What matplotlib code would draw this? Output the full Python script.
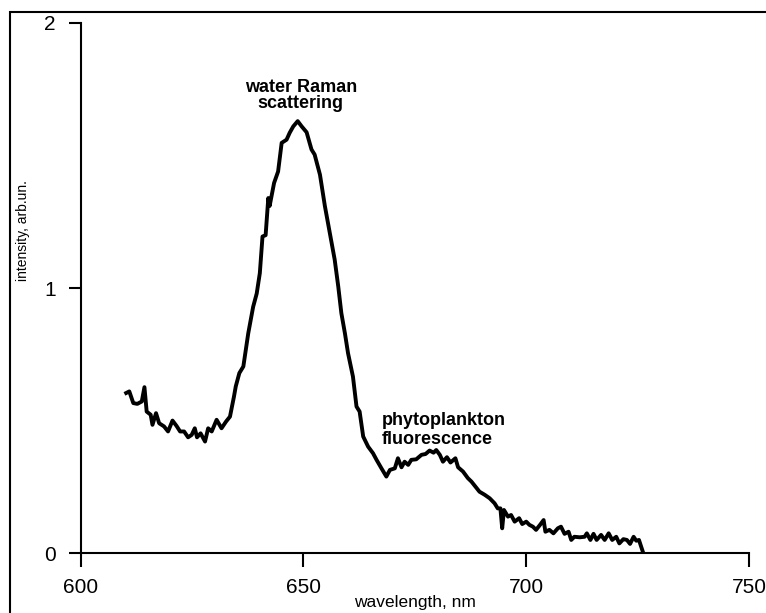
import matplotlib
matplotlib.use('agg')
import matplotlib.pyplot as plt
from matplotlib.patches import Rectangle

plt.rcParams['font.family'] = ['Liberation Sans', 'DejaVu Sans']

# spectrum
wavelength = [610.2, 610.9, 611.8, 612.7, 613.7, 614.3, 614.8, 615.7, 616.1, 616.9,
              617.6, 618.7, 619.6, 620.6, 621.5, 622.3, 623.2, 624.1, 624.9, 625.6,
              626.1, 626.9, 627.9, 628.6, 629.4, 630.5, 631.6, 632.6, 633.5, 634.4,
              634.8, 635.6, 636.5, 637.6, 638.7, 639.5, 640.2, 640.8, 641.5, 642.1,
              642.4, 643.4, 644.3, 645.1, 646.2, 646.9, 647.7, 648.7, 649.6, 650.7,
              651.8, 652.5, 653.7, 654.8, 655.9, 657.0, 657.8, 658.5, 659.3, 660.0,
              661.1, 661.9, 662.6, 663.4, 664.5, 665.6, 666.4, 667.5, 668.6, 669.4,
              670.5, 671.2, 672.0, 672.7, 673.5, 674.2, 675.3, 676.5, 677.4, 678.3,
              679.2, 679.8, 680.6, 681.3, 682.2, 683.0, 684.1, 684.7, 685.8, 686.9,
              687.7, 688.6, 689.5, 690.7, 691.8, 692.9, 693.6, 694.2, 694.6, 695.0,
              695.9, 696.6, 697.4, 698.4, 699.1, 700.0, 700.7, 701.5, 702.2, 703.1,
              703.9, 704.3, 705.2, 706.1, 707.1, 707.8, 708.6, 709.5, 710.1, 710.8,
              712.0, 713.1, 713.6, 714.4, 715.1, 715.8, 716.8, 717.6, 718.5, 719.3,
              720.2, 720.9, 721.8, 722.6, 723.3, 724.1, 724.7, 725.3, 725.8, 726.3]
intensity = [0.605, 0.611, 0.567, 0.564, 0.573, 0.627, 0.535, 0.523, 0.485, 0.529,
             0.491, 0.479, 0.46, 0.501, 0.481, 0.46, 0.46, 0.438, 0.447, 0.472,
             0.438, 0.453, 0.422, 0.472, 0.46, 0.504, 0.472, 0.497, 0.516, 0.592,
             0.63, 0.68, 0.705, 0.83, 0.93, 0.98, 1.057, 1.195, 1.2, 1.34,
             1.31, 1.397, 1.44, 1.548, 1.56, 1.586, 1.61, 1.63, 1.61, 1.588,
             1.523, 1.504, 1.428, 1.31, 1.208, 1.108, 1.007, 0.906, 0.83, 0.755,
             0.667, 0.554, 0.535, 0.441, 0.403, 0.378, 0.353, 0.321, 0.29, 0.315,
             0.321, 0.359, 0.325, 0.346, 0.334, 0.353, 0.355, 0.372, 0.375, 0.388,
             0.38, 0.39, 0.372, 0.346, 0.363, 0.343, 0.359, 0.325, 0.309, 0.284,
             0.271, 0.252, 0.233, 0.221, 0.208, 0.189, 0.17, 0.17, 0.095, 0.164,
             0.139, 0.145, 0.12, 0.133, 0.111, 0.12, 0.108, 0.101, 0.089, 0.108,
             0.126, 0.082, 0.089, 0.076, 0.095, 0.101, 0.074, 0.082, 0.051, 0.063,
             0.061, 0.063, 0.076, 0.051, 0.074, 0.051, 0.07, 0.051, 0.076, 0.051,
             0.063, 0.038, 0.054, 0.051, 0.036, 0.063, 0.048, 0.051, 0.026, 0.0]

x_ticks = [600, 650, 700, 750]
y_ticks = [0, 1, 2]

fig = plt.figure(figsize=(7.66, 6.13), dpi=100)
ax = fig.add_axes([0.1054, 0.0971, 0.8724, 0.8654])

ax.plot(wavelength, intensity, color='black', lw=2.8, solid_joinstyle='round')

ax.set_xlim(600, 750)
ax.set_ylim(0, 2)
ax.set_xticks(x_ticks)
ax.set_yticks(y_ticks)

for side in ['top', 'right']:
    ax.spines[side].set_visible(False)
for side in ['left', 'bottom']:
    ax.spines[side].set_linewidth(1.5)

ax.tick_params(axis='x', direction='out', length=10, width=1.5, pad=8, labelsize=15)
ax.tick_params(axis='y', direction='out', length=9, width=1.5, pad=9, labelsize=15)

ax.text(649.4, 1.79, 'water Raman\nscattering', ha='center', va='top',
        fontsize=13, fontweight='bold', linespacing=0.95)
ax.text(667.6, 0.535, 'phytoplankton\nfluorescence', ha='left', va='top',
        fontsize=13, fontweight='bold', linespacing=1.2)

fig.text(415 / 766, 1 - 603 / 613, 'wavelength, nm', ha='center', va='center', fontsize=12.5)
fig.text(23 / 766, 1 - 231 / 613, 'intensity, arb.un.', ha='center', va='center',
         rotation=90, fontsize=10)

# frame round the figure, cut at right and bottom
fig.patches.append(Rectangle((10 / 766, -0.2), 1.2, 1.2 - 12 / 613,
                             transform=fig.transFigure, fill=False,
                             edgecolor='black', lw=1.5))

plt.savefig('out.png', dpi=100, facecolor='white')
